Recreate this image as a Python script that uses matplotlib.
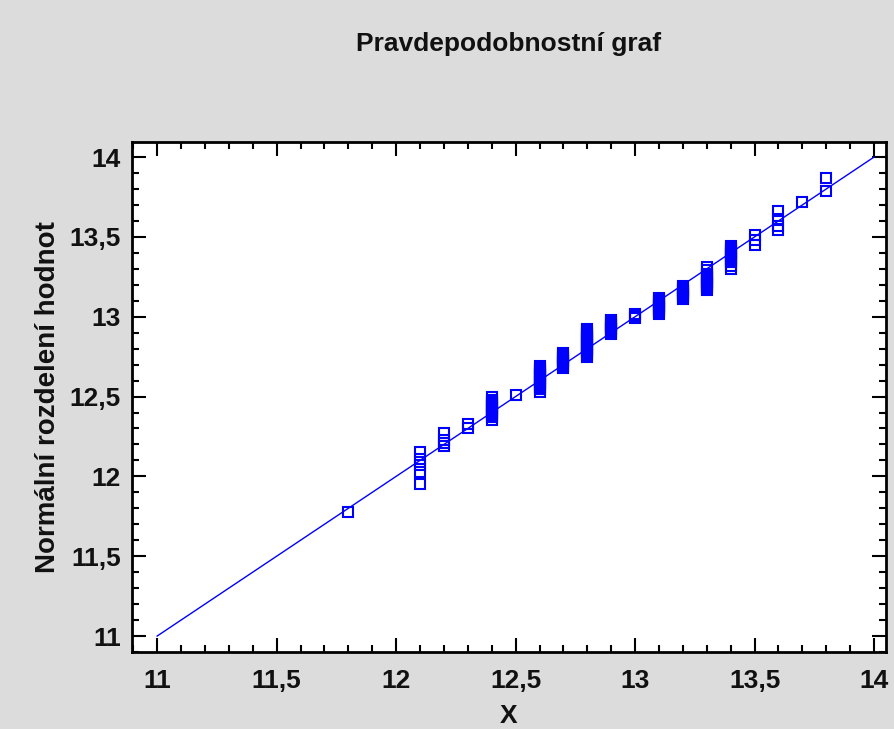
import numpy as np
import matplotlib.pyplot as plt
from matplotlib.ticker import MultipleLocator, FuncFormatter

x_vals = ([11.8]
          + [12.1] * 5
          + [12.2] * 4
          + [12.3] * 2
          + [12.4] * 14
          + [12.5]
          + [12.6] * 16
          + [12.7] * 10
          + [12.8] * 18
          + [12.9] * 10
          + [13.0] * 3
          + [13.1] * 11
          + [13.2] * 9
          + [13.3] * 13
          + [13.4] * 13
          + [13.5] * 3
          + [13.6] * 4
          + [13.7]
          + [13.8] * 2)
y_vals = [11.78,
          11.95, 12.03, 12.07, 12.11, 12.15,
          12.19, 12.21, 12.23, 12.27,
          12.30, 12.33,
          12.35, 12.37, 12.38, 12.39, 12.40, 12.41, 12.42, 12.43, 12.44, 12.45, 12.46, 12.47, 12.48, 12.50,
          12.51,
          12.53, 12.55, 12.56, 12.57, 12.58, 12.59, 12.60, 12.61, 12.62, 12.63, 12.64, 12.65, 12.66, 12.67,
          12.68, 12.69,
          12.68, 12.69, 12.70, 12.71, 12.72, 12.73, 12.74, 12.75, 12.76, 12.77,
          12.75, 12.76, 12.77, 12.78, 12.79, 12.80, 12.81, 12.82, 12.83, 12.84, 12.85, 12.86, 12.87,
          12.88, 12.89, 12.90, 12.91, 12.92,
          12.89, 12.90, 12.91, 12.92, 12.93, 12.94, 12.95, 12.96, 12.97, 12.98,
          12.99, 13.005, 13.02,
          13.02, 13.03, 13.04, 13.05, 13.06, 13.07, 13.08, 13.09, 13.10, 13.11, 13.12,
          13.11, 13.12, 13.13, 13.14, 13.15, 13.16, 13.17, 13.18, 13.19,
          13.17, 13.18, 13.19, 13.20, 13.21, 13.22, 13.23, 13.24, 13.25, 13.26, 13.27, 13.29, 13.31,
          13.30, 13.32, 13.34, 13.35, 13.36, 13.37, 13.38, 13.39, 13.40, 13.41, 13.42, 13.43, 13.44,
          13.45, 13.48, 13.51,
          13.54, 13.57, 13.61, 13.66,
          13.72,
          13.79, 13.87]
line_x = [11.0, 14.0]
line_y = [11.0, 14.0]

BG = "#dcdcdc"
BLUE = "#0000ff"
FONT = "Liberation Sans"

fig = plt.figure(figsize=(8.94, 7.29), dpi=100, facecolor=BG)
ax = fig.add_axes([0.1477, 0.1056, 0.8434, 0.6996])
ax.set_facecolor("white")

ax.plot(line_x, line_y, color=BLUE, lw=1.0, zorder=2)
ax.plot(x_vals, y_vals, linestyle="none", marker="s", markersize=7,
        markerfacecolor="none", markeredgecolor=BLUE, markeredgewidth=1.5, zorder=3)

ax.set_xlim(10.895, 14.05)
ax.set_ylim(10.90, 14.094)

comma = FuncFormatter(lambda v, pos: f"{v:g}".replace(".", ","))
for axis in (ax.xaxis, ax.yaxis):
    axis.set_major_locator(MultipleLocator(0.5))
    axis.set_minor_locator(MultipleLocator(0.1))
    axis.set_major_formatter(comma)

ax.tick_params(which="both", direction="in", top=True, right=True, color="black", width=1.5)
ax.tick_params(which="major", length=10, labelsize=19)
ax.tick_params(axis="x", which="major", pad=12)
ax.tick_params(axis="y", which="major", pad=8)
ax.tick_params(which="minor", length=5)
for lab in ax.get_xticklabels() + ax.get_yticklabels():
    lab.set_fontfamily(FONT)
    lab.set_fontweight("bold")
    lab.set_color("#111111")

for sp in ax.spines.values():
    sp.set_linewidth(2)
    sp.set_color("black")

ax.set_xlabel("X", fontsize=19, fontweight="bold", family=FONT, labelpad=8, color="#111111")
ax.set_ylabel("Normální rozdelení hodnot", fontsize=20, fontweight="bold", family=FONT,
              labelpad=6, color="#111111")
fig.text(0.569, 0.940, "Pravdepodobnostní graf", ha="center", va="center",
         fontsize=19, fontweight="bold", family=FONT, color="#111111")

fig.savefig("out.png", dpi=100, facecolor=BG)
